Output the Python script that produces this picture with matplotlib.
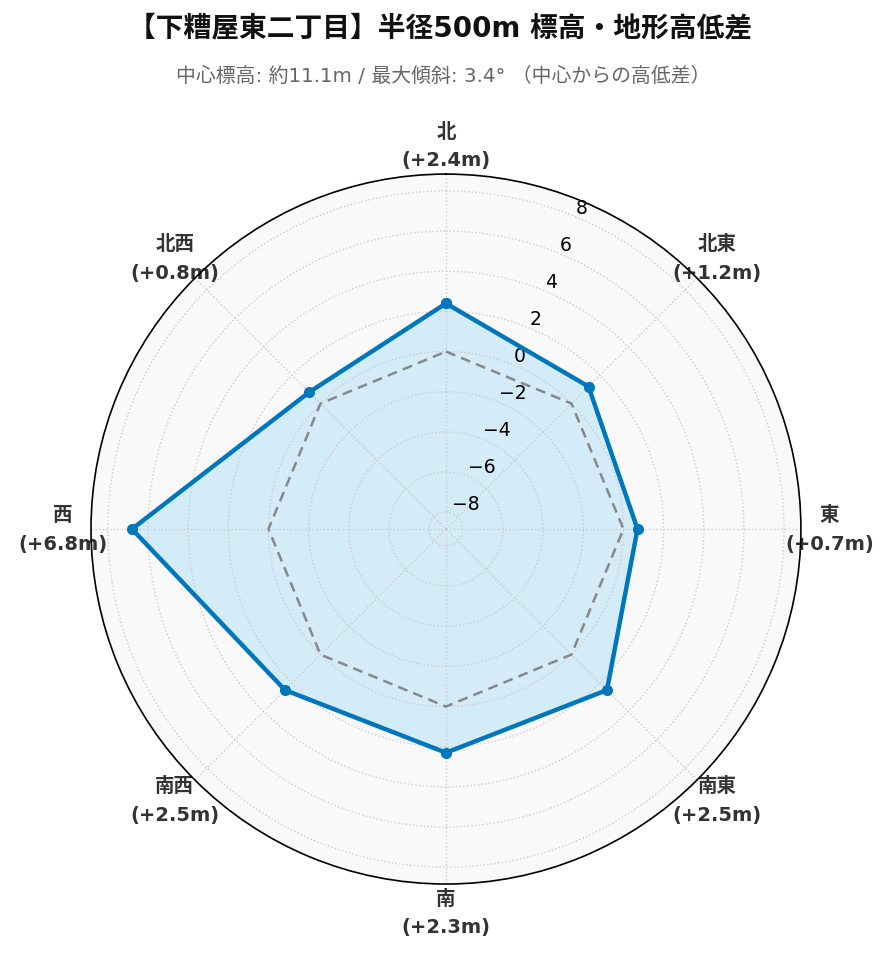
import numpy as np
import matplotlib
matplotlib.use("Agg")
import matplotlib.pyplot as plt

plt.rcParams['font.family'] = ['DejaVu Sans', 'Noto Sans CJK JP']

# data: height difference from center (m), clockwise from north
directions = ['北', '北東', '東', '南東', '南', '南西', '西', '北西']
diffs = [2.4, 1.2, 0.7, 2.5, 2.3, 2.5, 6.8, 0.8]
radial_ticks = [-8, -6, -4, -2, 0, 2, 4, 6, 8]

title = '【下糟屋東二丁目】半径500m 標高・地形高低差'
subtitle = '中心標高: 約11.1m / 最大傾斜: 3.4° （中心からの高低差）'

n = len(directions)
angles = np.linspace(0, 2 * np.pi, n, endpoint=False)
ang_closed = np.append(angles, angles[0])
vals_closed = np.append(diffs, diffs[0])

fig = plt.figure(figsize=(8.93, 9.62), dpi=100)
ax = fig.add_axes([0.1019, 0.080, 0.795, 0.738], projection='polar')
ax.set_theta_zero_location('N')
ax.set_theta_direction(-1)
ax.set_facecolor('#f9f9f9')

lim = max(np.abs(diffs)) * 1.3
ax.set_ylim(-lim, lim)

# zero reference
ax.plot(ang_closed, np.zeros_like(ang_closed), color='#888888', lw=1.8,
        ls=(0, (4, 2.5)))

ax.fill(ang_closed, vals_closed, color='#8ed4f6', alpha=0.35, lw=0)
ax.plot(ang_closed, vals_closed, color='#0077bb', lw=3.2, marker='o',
        markersize=7)

ax.set_xticks(angles)
ax.set_xticklabels([f'{d}\n(+{v:.1f}m)' for d, v in zip(directions, diffs)],
                   fontsize=14, fontweight='bold', color='#333333',
                   linespacing=1.65)
ax.tick_params(axis='x', pad=10)
ax.set_yticks(radial_ticks)
ax.set_yticklabels([f'{t}'.replace('-', '\u2212') for t in radial_ticks],
                   fontsize=13.5)
ax.set_rlabel_position(22.5)
ax.grid(True, color='#cccccc', ls=':', lw=1)
ax.spines['polar'].set_color('black')
ax.spines['polar'].set_linewidth(1.2)

fig.text(0.493, 0.971, title, ha='center', va='center', fontsize=20,
         fontweight='bold', color='#111111')
fig.text(0.496, 0.921, subtitle, ha='center', va='center', fontsize=14.3,
         color='#666666')

fig.savefig('out.png', dpi=100)
